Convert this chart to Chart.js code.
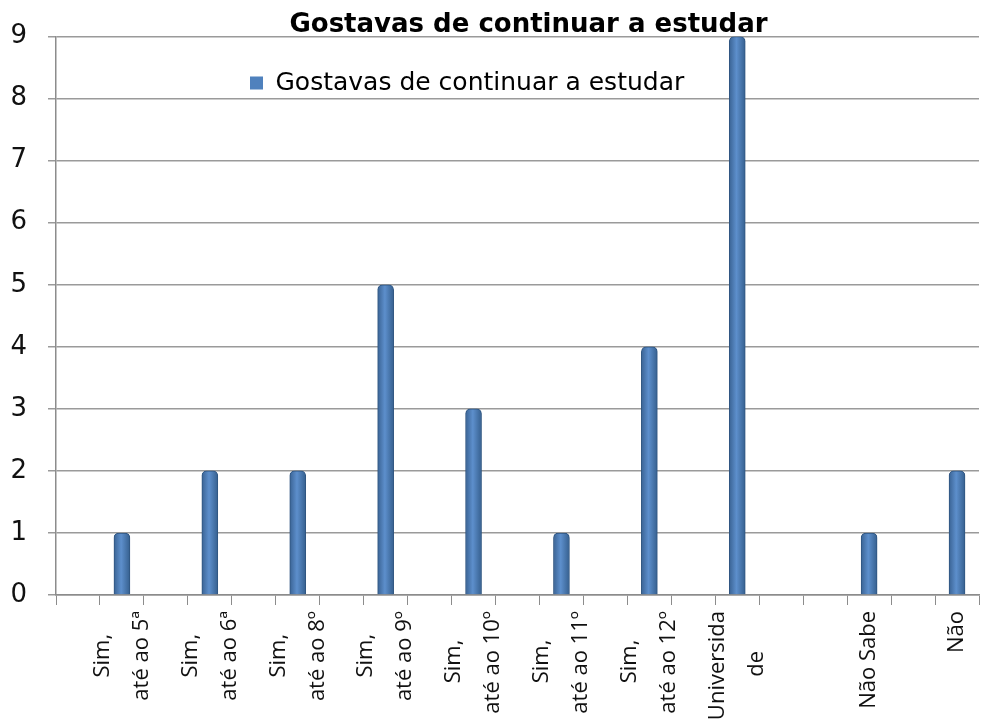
<!DOCTYPE html>
<html>
<head>
<meta charset="utf-8">
<script src="https://cdn.jsdelivr.net/npm/chart.js@4/dist/chart.umd.min.js"></script>
<style>
html, body { margin: 0; padding: 0; background: #fff; }
#wrap { width: 985px; height: 719px; }
</style>
</head>
<body>
<div id="wrap"><canvas id="studyChart"></canvas></div>
<script>
// categories (blank slots are the empty rows of the original sheet)
var categories = [
    '', ['Sim,', 'até ao 5ª'], '', ['Sim,', 'até ao 6ª'], '', ['Sim,', 'até ao 8º'], '',
    ['Sim,', 'até ao 9º'], '', ['Sim,', 'até ao 10º'], '', ['Sim,', 'até ao 11º'], '',
    ['Sim,', 'até ao 12º'], '', ['Universida', 'de'], '', '', 'Não Sabe', '', 'Não'
];
var respostas = [
    null, 1, null, 2, null, 2, null,
    5, null, 3, null, 1, null,
    4, null, 9, null, null, 1, null, 2
];
var seriesName = 'Gostavas de continuar a estudar';
var chartTitle = 'Gostavas de continuar a estudar';
var yTicks = [0, 1, 2, 3, 4, 5, 6, 7, 8, 9];

var labelSize = 22;
var labelLine = 39;

function barFill(context) {
    var chart = context.chart;
    var xs = chart.scales.x;
    if (!xs || context.dataIndex === undefined) {
        return '#4F81BD';
    }
    var cx = xs.getPixelForValue(context.dataIndex);
    var g = chart.ctx.createLinearGradient(cx - 8, 0, cx + 8, 0);
    g.addColorStop(0, '#3A6394');
    g.addColorStop(0.45, '#5D8FCC');
    g.addColorStop(1, '#36608F');
    return g;
}

// wrapped labels are centred line against line, like the spreadsheet does
var measureCtx = document.createElement('canvas').getContext('2d');
function centreLines(lines) {
    measureCtx.font = labelSize + 'px "Open Sans"';
    var widths = lines.map(function (l) { return measureCtx.measureText(l).width; });
    var maxW = Math.max.apply(null, widths);
    var sp = measureCtx.measureText(' ').width;
    return lines.map(function (l, i) {
        return l + ' '.repeat(Math.round((maxW - widths[i]) / 2 / sp));
    });
}

// nudge title and legend to where the original puts them
var placeBoxes = {
    id: 'placeBoxes',
    afterLayout: function (chart) {
        var lg = chart.legend;
        lg.left += 160;
        lg.right += 160;
        lg.top = chart.chartArea.top;
        lg.bottom = chart.chartArea.bottom;
        var tb = chart.titleBlock;
        tb.left += 39;
        tb.right += 39;
    }
};

var ctx = document.getElementById('studyChart').getContext('2d');
var studyChart = new Chart(ctx, {
    type: 'bar',
    data: {
        labels: categories,
        datasets: [{
            label: seriesName,
            data: respostas,
            backgroundColor: barFill,
            borderColor: '#2F5580',
            borderWidth: 1,
            borderSkipped: 'bottom',
            borderRadius: { topLeft: 5, topRight: 5 },
            barThickness: 16,
        }],
    },
    options: {
        responsive: true,
        maintainAspectRatio: false,
        animation: false,
        layout: {
            padding: { left: 0, right: 6, top: 0, bottom: 0 },
        },
        plugins: {
            title: {
                display: true,
                text: chartTitle,
                color: '#000',
                font: { family: 'DejaVu Sans', size: 26, weight: 'bold' },
                padding: { top: 8, bottom: -4 },
            },
            legend: {
                position: 'chartArea',
                align: 'start',
                labels: {
                    color: '#222',
                    font: { family: 'DejaVu Sans', size: 25 },
                    boxWidth: 13,
                    boxHeight: 13,
                    padding: 34,
                    generateLabels: function (chart) {
                        return [{
                            text: seriesName,
                            fillStyle: '#4F81BD',
                            strokeStyle: '#4F81BD',
                            lineWidth: 0,
                            datasetIndex: 0,
                        }];
                    },
                },
            },
            tooltip: { enabled: false },
        },
        scales: {
            x: {
                afterFit: function (scale) {
                    scale.paddingLeft = 0;
                    scale.paddingRight = 0;
                    scale.height = 124;
                },
                grid: {
                    display: true,
                    drawOnChartArea: false,
                    drawTicks: true,
                    tickLength: 10,
                    color: '#8C8C8C',
                    offset: true,
                },
                border: { color: '#8C8C8C', width: 1.5 },
                ticks: {
                    autoSkip: false,
                    maxRotation: 90,
                    minRotation: 90,
                    color: '#111',
                    padding: 6,
                    labelOffset: -labelLine / 2,
                    callback: function (value, index) {
                        var lab = categories[index];
                        if (Array.isArray(lab)) {
                            return centreLines(lab);
                        }
                        return lab === '' ? '' : ['', lab];
                    },
                    font: function (c) {
                        var lab = categories[c.index];
                        var lh = Array.isArray(lab) ? labelLine : labelLine / 2;
                        return { family: 'Open Sans', size: labelSize, lineHeight: lh + 'px' };
                    },
                },
            },
            y: {
                min: 0,
                max: 9,
                afterBuildTicks: function (axis) {
                    axis.ticks = yTicks.map(function (v) { return { value: v }; });
                },
                afterFit: function (scale) {
                    scale.width = 56;
                },
                grid: {
                    color: '#9A9A9A',
                    lineWidth: 1.5,
                    tickLength: 8,
                },
                border: { color: '#8C8C8C', width: 1.5 },
                ticks: {
                    color: '#111',
                    font: { family: 'DejaVu Sans', size: 26 },
                    padding: 21,
                },
            },
        },
    },
    plugins: [placeBoxes],
});
</script>
</body>
</html>
